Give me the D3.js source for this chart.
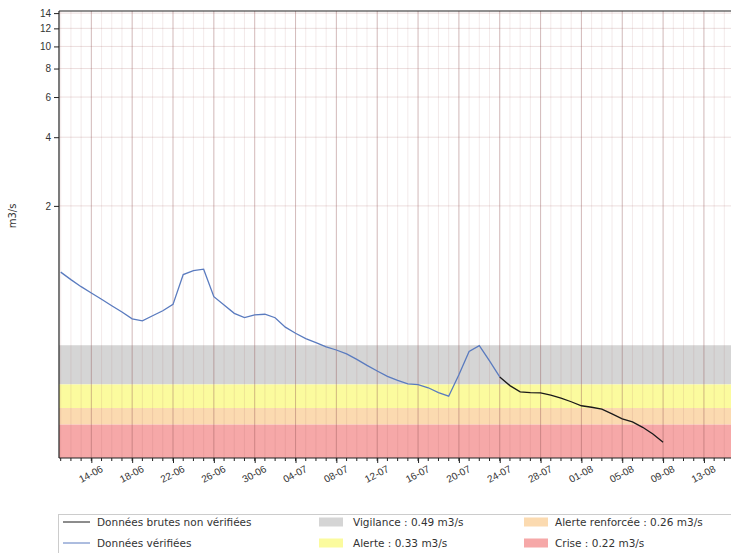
<!DOCTYPE html>
<html>
<head>
<meta charset="utf-8">
<script src="https://cdn.jsdelivr.net/npm/d3@7"></script>
<style>
  body { margin: 0; background: #fff; }
  svg { display: block; font-family: "DejaVu Sans", sans-serif; }
</style>
</head>
<body>
<svg width="731" height="553"></svg>
<script>
// données vérifiées (bleu) puis données brutes (noir)
const verifDates = ["2023-06-11","2023-06-12","2023-06-13","2023-06-14","2023-06-15","2023-06-16","2023-06-17",
  "2023-06-18","2023-06-19","2023-06-20","2023-06-21","2023-06-22","2023-06-23","2023-06-24","2023-06-25",
  "2023-06-26","2023-06-27","2023-06-28","2023-06-29","2023-06-30","2023-07-01","2023-07-02","2023-07-03",
  "2023-07-04","2023-07-05","2023-07-06","2023-07-07","2023-07-08","2023-07-09","2023-07-10","2023-07-11",
  "2023-07-12","2023-07-13","2023-07-14","2023-07-15","2023-07-16","2023-07-17","2023-07-18","2023-07-19",
  "2023-07-20","2023-07-21","2023-07-22","2023-07-23","2023-07-24"];
const verifValues = [1.025, 0.95, 0.885, 0.83, 0.78, 0.73, 0.685,
  0.64, 0.627, 0.66, 0.694, 0.74, 1.0, 1.04, 1.056,
  0.80, 0.735, 0.676, 0.648, 0.666, 0.67, 0.647, 0.588,
  0.553, 0.524, 0.503, 0.482, 0.467, 0.449, 0.425, 0.40,
  0.378, 0.358, 0.344, 0.332, 0.329, 0.319, 0.304, 0.293,
  0.364, 0.46, 0.488, 0.418, 0.356];

const brutDates = ["2023-07-24","2023-07-25","2023-07-26","2023-07-27","2023-07-28","2023-07-29","2023-07-30",
  "2023-07-31","2023-08-01","2023-08-02","2023-08-03","2023-08-04","2023-08-05","2023-08-06","2023-08-07",
  "2023-08-08","2023-08-09"];
const brutValues = [0.356, 0.326, 0.306, 0.304, 0.303, 0.296, 0.287,
  0.277, 0.266, 0.262, 0.257, 0.245, 0.233, 0.226, 0.214,
  0.200, 0.184];

// seuils de restriction
const seuilNoms = ["Vigilance", "Alerte", "Alerte renforcée", "Crise"];
const seuilValeurs = [0.49, 0.33, 0.26, 0.22];
const seuilCouleurs = ["#d5d5d5", "#fbfb9e", "#fbdab0", "#f6a8a8"];

const yTicks = [2, 4, 6, 8, 10, 12, 14];
// étiquettes de l'axe X (tous les 4 jours)
const xTickDates = ["2023-06-14","2023-06-18","2023-06-22","2023-06-26","2023-06-30","2023-07-04",
  "2023-07-08","2023-07-12","2023-07-16","2023-07-20","2023-07-24","2023-07-28","2023-08-01",
  "2023-08-05","2023-08-09","2023-08-13"];

const parse = d3.timeParse("%Y-%m-%d");

const svg = d3.select("svg");
const area = { left: 59, top: 11, bottom: 458 };
const pxJour = 10.21;

const x0 = new Date(2023, 5, 10, 20);
const x1 = new Date(2023, 7, 17);
const scX = d3.scaleTime()
  .domain([x0, x1])
  .range([area.left, area.left + (x1 - x0) / 864e5 * pxJour]);
const scY = d3.scaleLog()
  .domain([0.157, 14.3])
  .range([area.bottom, area.top]);

const plotW = 740 - area.left;

// bandes de seuils
const yMin = scY.domain()[0];
seuilValeurs.forEach((v, i) => {
  const bas = i < seuilValeurs.length - 1 ? seuilValeurs[i + 1] : yMin;
  svg.append("rect")
    .attr("x", area.left)
    .attr("y", scY(v))
    .attr("width", plotW)
    .attr("height", scY(bas) - scY(v))
    .style("fill", seuilCouleurs[i]);
});

// grille verticale : chaque jour + tous les 4 jours
const days = d3.timeDay.range(d3.timeDay.ceil(x0), x1);
const majorDays = xTickDates.map(parse);

svg.append("g").selectAll("line")
  .data(days)
  .enter().append("line")
  .attr("x1", d => scX(d)).attr("x2", d => scX(d))
  .attr("y1", area.top).attr("y2", area.bottom)
  .style("stroke", "#a05a5a").style("stroke-opacity", 0.13).style("stroke-width", 1);

svg.append("g").selectAll("line")
  .data(majorDays)
  .enter().append("line")
  .attr("x1", d => scX(d)).attr("x2", d => scX(d))
  .attr("y1", area.top).attr("y2", area.bottom)
  .style("stroke", "#8a5050").style("stroke-opacity", 0.3).style("stroke-width", 1);

svg.append("g").selectAll("line")
  .data(yTicks)
  .enter().append("line")
  .attr("x1", area.left).attr("x2", area.left + plotW)
  .attr("y1", d => scY(d)).attr("y2", d => scY(d))
  .style("stroke", "#a05a5a").style("stroke-opacity", 0.2).style("stroke-width", 1);

// courbes
const line = d3.line()
  .x(d => scX(d[0]))
  .y(d => scY(d[1]));

svg.append("path")
  .datum(verifDates.map((d, i) => [parse(d), verifValues[i]]))
  .attr("d", line)
  .style("fill", "none").style("stroke", "#5a7bbf").style("stroke-width", 1.3);

svg.append("path")
  .datum(brutDates.map((d, i) => [parse(d), brutValues[i]]))
  .attr("d", line)
  .style("fill", "none").style("stroke", "#1a1a1a").style("stroke-width", 1.3);

// axes
const axisY = d3.axisLeft(scY).tickValues(yTicks).tickFormat(d3.format("d")).tickSize(5).tickPadding(3);
const gY = svg.append("g").attr("transform", `translate(${area.left},0)`).call(axisY);
gY.select(".domain").remove();
gY.selectAll("text").style("font-size", "10px").style("fill", "#333");
gY.selectAll("line").style("stroke", "#222");

// ticks mineurs sur l'axe X
svg.append("g").selectAll("line")
  .data(days)
  .enter().append("line")
  .attr("x1", d => scX(d)).attr("x2", d => scX(d))
  .attr("y1", area.bottom).attr("y2", area.bottom + 3)
  .style("stroke", "#222");

const axisX = d3.axisBottom(scX).tickValues(majorDays).tickFormat(d3.timeFormat("%d-%m")).tickSize(5).tickPadding(3);
const gX = svg.append("g").attr("transform", `translate(0,${area.bottom})`).call(axisX);
gX.select(".domain").remove();
gX.selectAll("line").style("stroke", "#222");
gX.selectAll("text")
  .style("font-size", "10px").style("fill", "#333")
  .style("text-anchor", "middle")
  .attr("y", 0).attr("dy", "0.35em")
  .attr("transform", "translate(-1,16) rotate(-28)");

// cadre
svg.append("line")
  .attr("x1", area.left).attr("x2", area.left + plotW)
  .attr("y1", area.top).attr("y2", area.top)
  .style("stroke", "#222").style("stroke-width", 1.2);
svg.append("line")
  .attr("x1", area.left).attr("x2", area.left + plotW)
  .attr("y1", area.bottom).attr("y2", area.bottom)
  .style("stroke", "#222").style("stroke-width", 1.2);
svg.append("line")
  .attr("x1", area.left).attr("x2", area.left)
  .attr("y1", area.top).attr("y2", area.bottom)
  .style("stroke", "#222").style("stroke-width", 1.2);

svg.append("text")
  .attr("transform", "translate(16,216) rotate(-90)")
  .style("text-anchor", "middle")
  .style("font-size", "10px").style("fill", "#333")
  .text("m3/s");

// légende
const leg = svg.append("g");
leg.append("rect")
  .attr("x", 58.5).attr("y", 514.5).attr("width", 680).attr("height", 45)
  .style("fill", "#fff").style("stroke", "#ccc");

const legLignes = [["Données brutes non vérifiées", "#1a1a1a"], ["Données vérifiées", "#5a7bbf"]];
legLignes.forEach((l, i) => {
  const y = 522 + i * 21;
  leg.append("line").attr("x1", 63).attr("x2", 90).attr("y1", y).attr("y2", y)
    .style("stroke", l[1]).style("stroke-width", 1);
  leg.append("text").attr("x", 97).attr("y", y).attr("dy", "0.35em")
    .style("font-size", "10.5px").style("fill", "#333").text(l[0]);
});

const legCols = [[319, 353], [319, 353], [524, 555], [524, 555]];
const legRows = [0, 1, 0, 1];
seuilNoms.forEach((n, i) => {
  const y = 522 + legRows[i] * 21;
  leg.append("rect").attr("x", legCols[i][0]).attr("y", y - 4.5).attr("width", 24).attr("height", 9)
    .style("fill", seuilCouleurs[i]);
  leg.append("text").attr("x", legCols[i][1]).attr("y", y).attr("dy", "0.35em")
    .style("font-size", "10.5px").style("fill", "#333")
    .text(`${n} : ${seuilValeurs[i]} m3/s`);
});
</script>
</body>
</html>
